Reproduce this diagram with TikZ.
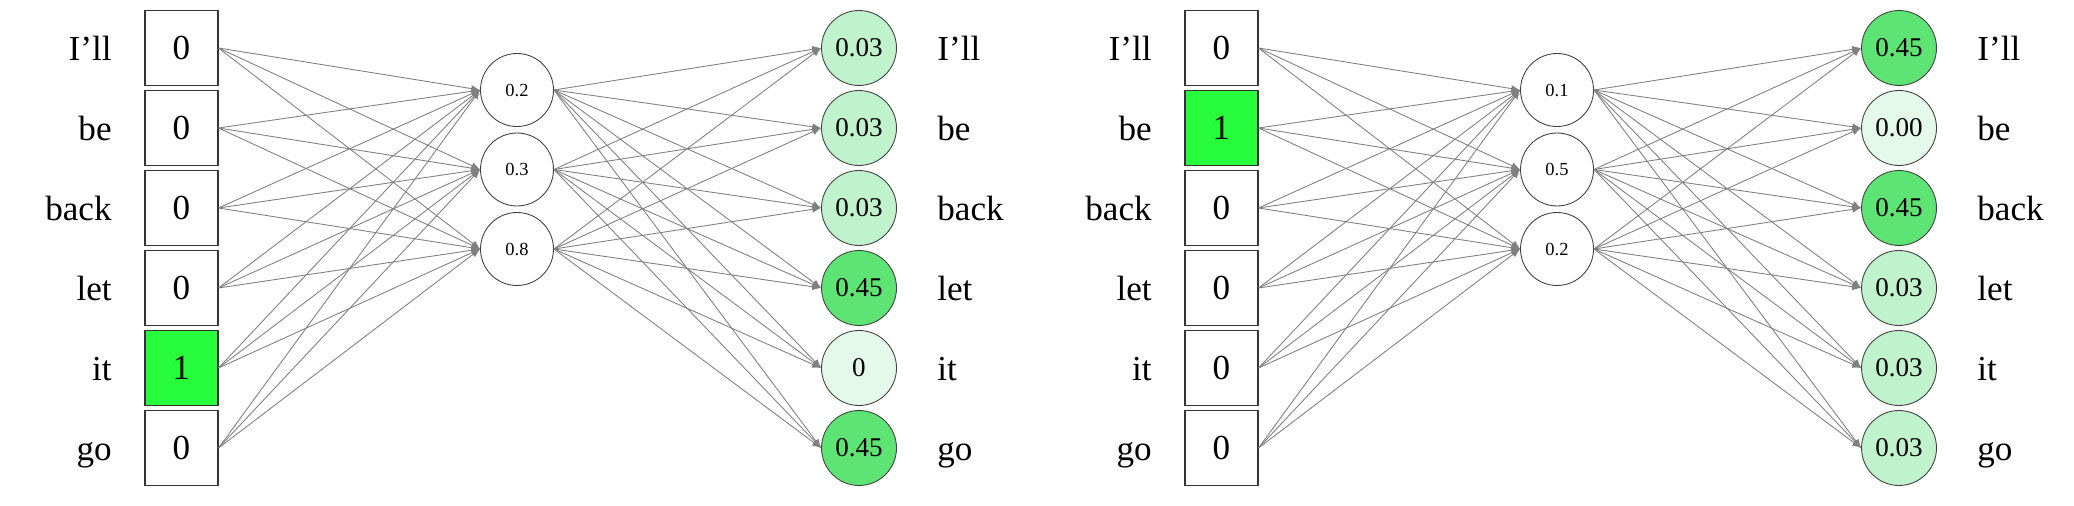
\documentclass[tikz,border=0pt]{standalone}
\usepackage{fontspec}
\setmainfont{Liberation Serif}
\usetikzlibrary{arrows.meta,positioning}
\definecolor{hot}{RGB}{38,252,60}
\definecolor{probhi}{RGB}{94,228,117}
\definecolor{problo}{RGB}{192,243,203}
\definecolor{probzero}{RGB}{228,249,233}

\begin{document}
\begin{tikzpicture}[
    x=0.02cm, y=-0.02cm,
    inbox/.style={rectangle, draw=black!80, line width=0.6pt, minimum width=1.46cm, minimum height=1.5cm, inner sep=0pt, font=\fontsize{20}{20}\selectfont},
    hid/.style={circle, draw=black!75, line width=0.5pt, minimum size=1.46cm, inner sep=0pt, font=\fontsize{10.5}{11}\selectfont},
    outc/.style={circle, draw=black!75, line width=0.5pt, minimum size=1.5cm, inner sep=0pt, font=\fontsize{15.4}{16}\selectfont},
    word/.style={inner sep=0pt, font=\fontsize{20}{20}\selectfont},
    arrow/.style={-{Latex[length=5pt,width=4pt]}, draw=black!50, line width=0.5pt}
]
\useasboundingbox (0,0) rectangle (2074,506);

% left network: input "it"
\foreach \w/\v/\f [count=\i] in {I’ll/0/white, be/0/white, back/0/white, let/0/white, it/1/hot, go/0/white} {
  \node[word, anchor=base east] (lw\i) at (112, {80*\i-32+12.5}) {\w};
  \node[inbox, fill=\f] (lin\i) at (181.5, {80*\i-32}) {\v};
}
\foreach \v [count=\j] in {0.2, 0.3, 0.8}
  \node[hid] (lhid\j) at (517, {10.5+79.5*\j}) {\v};
\foreach \w/\v/\f [count=\k] in {I’ll/0.03/problo, be/0.03/problo, back/0.03/problo, let/0.45/probhi, it/0/probzero, go/0.45/probhi} {
  \node[outc, fill=\f] (lout\k) at (859, {80*\k-32}) {\v};
  \node[word, anchor=base west] (low\k) at (937, {80*\k-32+12.5}) {\w};
}
\foreach \i in {1,...,6}
  \foreach \j in {1,2,3}
    \draw[arrow] (lin\i.east) -- (lhid\j.west);
\foreach \j in {1,2,3}
  \foreach \k in {1,...,6}
    \draw[arrow] (lhid\j.east) -- (lout\k.west);

% right network: input "be"
\foreach \w/\v/\f [count=\i] in {I’ll/0/white, be/1/hot, back/0/white, let/0/white, it/0/white, go/0/white} {
  \node[word, anchor=base east] (rw\i) at (1152, {80*\i-32+12.5}) {\w};
  \node[inbox, fill=\f] (rin\i) at (1221.5, {80*\i-32}) {\v};
}
\foreach \v [count=\j] in {0.1, 0.5, 0.2}
  \node[hid] (rhid\j) at (1557, {10.5+79.5*\j}) {\v};
\foreach \w/\v/\f [count=\k] in {I’ll/0.45/probhi, be/0.00/probzero, back/0.45/probhi, let/0.03/problo, it/0.03/problo, go/0.03/problo} {
  \node[outc, fill=\f] (rout\k) at (1899, {80*\k-32}) {\v};
  \node[word, anchor=base west] (row\k) at (1977, {80*\k-32+12.5}) {\w};
}
\foreach \i in {1,...,6}
  \foreach \j in {1,2,3}
    \draw[arrow] (rin\i.east) -- (rhid\j.west);
\foreach \j in {1,2,3}
  \foreach \k in {1,...,6}
    \draw[arrow] (rhid\j.east) -- (rout\k.west);
\end{tikzpicture}
\end{document}
